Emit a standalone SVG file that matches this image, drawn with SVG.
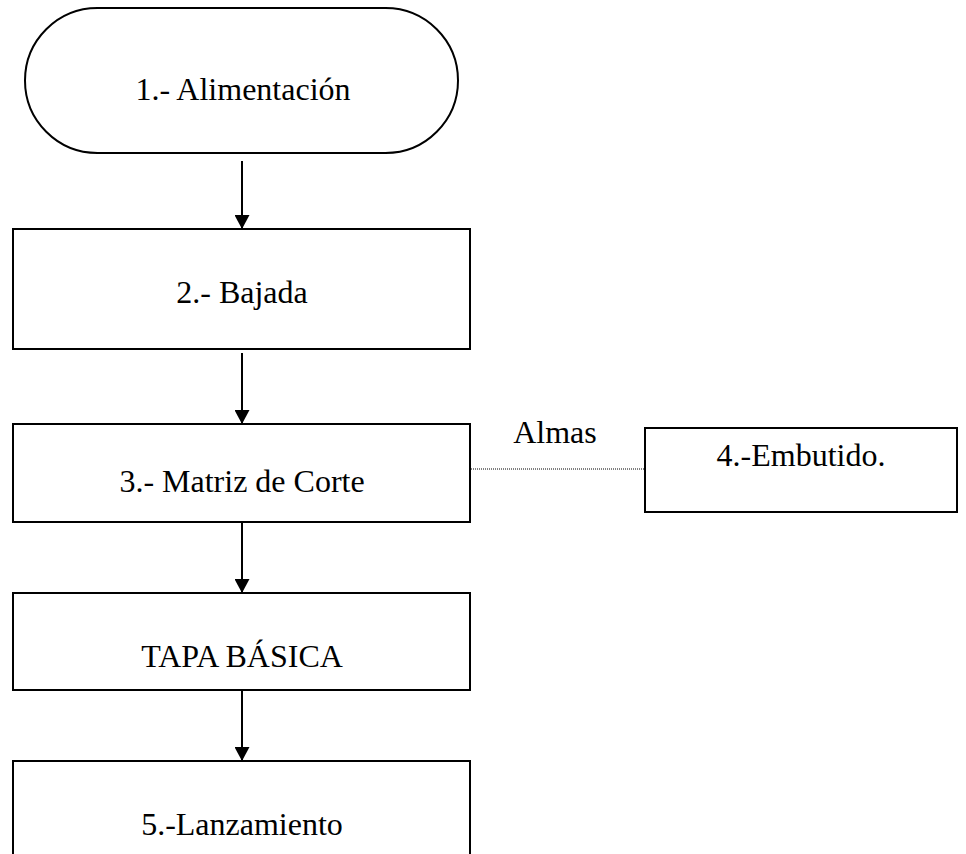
<svg xmlns="http://www.w3.org/2000/svg" width="966" height="854" viewBox="0 0 966 854">
  <style>
    .box { fill: #ffffff; stroke: #000000; stroke-width: 2; }
    .lbl { font-family: "Liberation Serif", "Times New Roman", serif; font-size: 32px; fill: #000000; }
    .flow { stroke: #000000; stroke-width: 2; fill: none; }
    .dot { stroke: #000000; stroke-width: 1; stroke-dasharray: 1 1; fill: none; }
  </style>
  <defs>
    <marker id="arrow" markerWidth="14" markerHeight="15" refX="14" refY="7.5" orient="auto" markerUnits="userSpaceOnUse">
      <path d="M0,0 L14,7.5 L0,15 Z" fill="#000000"/>
    </marker>
  </defs>
  <rect width="966" height="854" fill="#ffffff"/>

  <g id="connectors">
    <line class="flow" x1="242" y1="161" x2="242" y2="229" marker-end="url(#arrow)"/>
    <line class="flow" x1="242" y1="353" x2="242" y2="424" marker-end="url(#arrow)"/>
    <line class="flow" x1="242" y1="522" x2="242" y2="593" marker-end="url(#arrow)"/>
    <line class="flow" x1="242" y1="690" x2="242" y2="761" marker-end="url(#arrow)"/>
    <line class="dot" x1="471" y1="469" x2="645" y2="469"/>
    <text class="lbl" x="555" y="443" text-anchor="middle">Almas</text>
  </g>

  <g id="node1">
    <rect class="box" x="25" y="8" width="433" height="145" rx="72.5" ry="72.5"/>
    <text class="lbl" x="243" y="100" text-anchor="middle">1.- Alimentación</text>
  </g>
  <g id="node2">
    <rect class="box" x="13" y="229" width="457" height="120"/>
    <text class="lbl" x="242" y="303" text-anchor="middle">2.- Bajada</text>
  </g>
  <g id="node3">
    <rect class="box" x="13" y="424" width="457" height="98"/>
    <text class="lbl" x="242" y="492" text-anchor="middle">3.- Matriz de Corte</text>
  </g>
  <g id="node4">
    <rect class="box" x="645" y="428" width="312" height="84"/>
    <text class="lbl" x="801" y="466" text-anchor="middle">4.-Embutido.</text>
  </g>
  <g id="node5">
    <rect class="box" x="13" y="593" width="457" height="97"/>
    <text class="lbl" x="242" y="667" text-anchor="middle">TAPA BÁSICA</text>
  </g>
  <g id="node6">
    <rect class="box" x="13" y="761" width="457" height="110"/>
    <text class="lbl" x="242" y="835" text-anchor="middle">5.-Lanzamiento</text>
  </g>
</svg>
